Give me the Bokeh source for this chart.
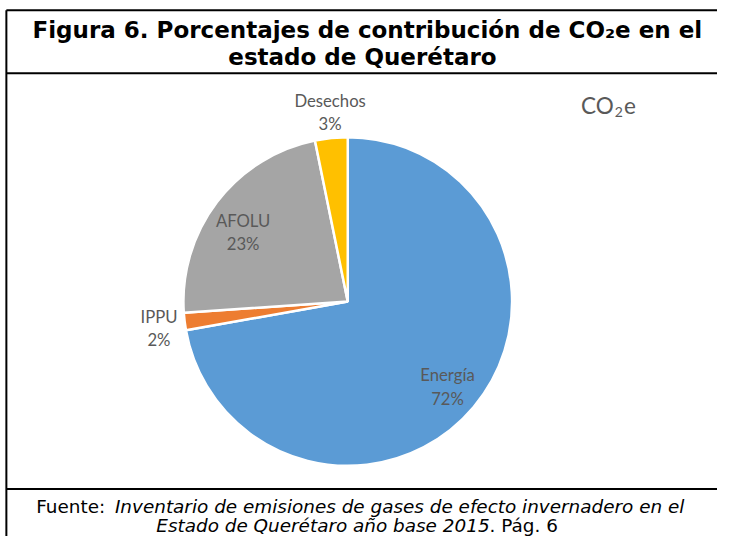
import math
from bokeh.plotting import figure
from bokeh.models import Range1d, ColumnDataSource
from bokeh.core.properties import value
from bokeh.embed import file_html
from bokeh.resources import INLINE

# ---- data ----
categories = ["Energía", "IPPU", "AFOLU", "Desechos"]
shares = [72.2, 1.7, 22.9, 3.2]
pct_labels = ["72%", "2%", "23%", "3%"]
colors = ["#5B9BD5", "#ED7D31", "#A5A5A5", "#FFC000"]

title_lines = ["Figura 6. Porcentajes de contribución de CO₂e en el", "estado de Querétaro"]
tag_parts = ["CO", "2", "e"]
source_prefix = "Fuente:"
source_italic_1 = "Inventario de emisiones de gases de efecto invernadero en el"
source_italic_2 = "Estado de Querétaro año base 2015"
source_tail = ". Pág. 6"

# ---- layout: reference-picture coordinates (733 x 552) drawn into a 717 x 536 figure ----
REF_W, REF_H = 733, 552
W, H = 717, 536


def Y(y):
    return REF_H - y


cx, cy, R = 355, 310, 168
label_pos = {
    "Energía": (457, 386),
    "IPPU": (162, 326),
    "AFOLU": (248, 227),
    "Desechos": (337, 103),
}
LABEL_FONT = value("Lato")
TEXT_FONT = value("DejaVu Sans")
GRAY = "#595959"

p = figure(width=W, height=H, output_backend="svg", toolbar_location=None,
           x_range=Range1d(0, REF_W), y_range=Range1d(0, REF_H),
           min_border=0, outline_line_color=None, background_fill_color="white",
           border_fill_color="white")
p.axis.visible = False
p.grid.visible = False

# wedges (clockwise from 12 o'clock)
total = sum(shares)
starts, ends = [], []
cum = 0.0
for s in shares:
    starts.append(math.pi / 2 - 2 * math.pi * cum / total)
    cum += s
    ends.append(math.pi / 2 - 2 * math.pi * cum / total)

src = ColumnDataSource(dict(cat=categories, start=starts, end=ends, color=colors,
                            x=[cx] * len(shares), y=[Y(cy)] * len(shares)))
p.wedge(x="x", y="y", radius=R, start_angle="start", end_angle="end",
        direction="clock", fill_color="color", line_color="white", line_width=2.5,
        source=src)

# data labels
lx = [label_pos[c][0] for c in categories]
ly = [Y(label_pos[c][1]) for c in categories]
p.text(x=lx, y=ly, text=categories, text_align="center", text_baseline="middle",
       text_font=LABEL_FONT, text_font_size="16.7px", text_color=GRAY)
p.text(x=lx, y=[v - 24 for v in ly], text=pct_labels, text_align="center",
       text_baseline="middle", text_font=LABEL_FONT, text_font_size="16.7px",
       text_color=GRAY)

# chart tag  CO2e (with real subscript)
p.text(x=[627], y=[Y(108)], text=[tag_parts[0]], text_align="right", text_baseline="middle",
       text_font=LABEL_FONT, text_font_size="22.5px", text_color=GRAY)
p.text(x=[628], y=[Y(115)], text=[tag_parts[1]], text_align="left", text_baseline="middle",
       text_font=LABEL_FONT, text_font_size="14px", text_color=GRAY)
p.text(x=[637.5], y=[Y(108)], text=[tag_parts[2]], text_align="left", text_baseline="middle",
       text_font=LABEL_FONT, text_font_size="22.5px", text_color=GRAY)

# title
p.text(x=[375, 370], y=[Y(30), Y(58)], text=title_lines, text_align="center",
       text_baseline="middle", text_font=TEXT_FONT, text_font_size="23px",
       text_font_style="bold", text_color="black")

# source
FS = "18.4px"
p.text(x=[107], y=[Y(521)], text=[source_prefix], text_align="right", text_baseline="middle",
       text_font=TEXT_FONT, text_font_size=FS, text_color="black")
p.text(x=[117], y=[Y(521)], text=[source_italic_1], text_align="left", text_baseline="middle",
       text_font=TEXT_FONT, text_font_size=FS, text_font_style="italic",
       text_color="black")
p.text(x=[500], y=[Y(541)], text=[source_italic_2], text_align="right", text_baseline="middle",
       text_font=TEXT_FONT, text_font_size=FS, text_font_style="italic",
       text_color="black")
p.text(x=[500], y=[Y(541)], text=[source_tail], text_align="left", text_baseline="middle",
       text_font=TEXT_FONT, text_font_size=FS, text_color="black")

# frame lines
p.segment(x0=[6, 6, 6, 6], y0=[Y(10), Y(75), Y(503), Y(10)],
          x1=[REF_W, REF_W, REF_W, 6], y1=[Y(10), Y(75), Y(503), Y(REF_H)],
          line_color="black", line_width=2)

open("out.html", "w").write(file_html(p, INLINE))
